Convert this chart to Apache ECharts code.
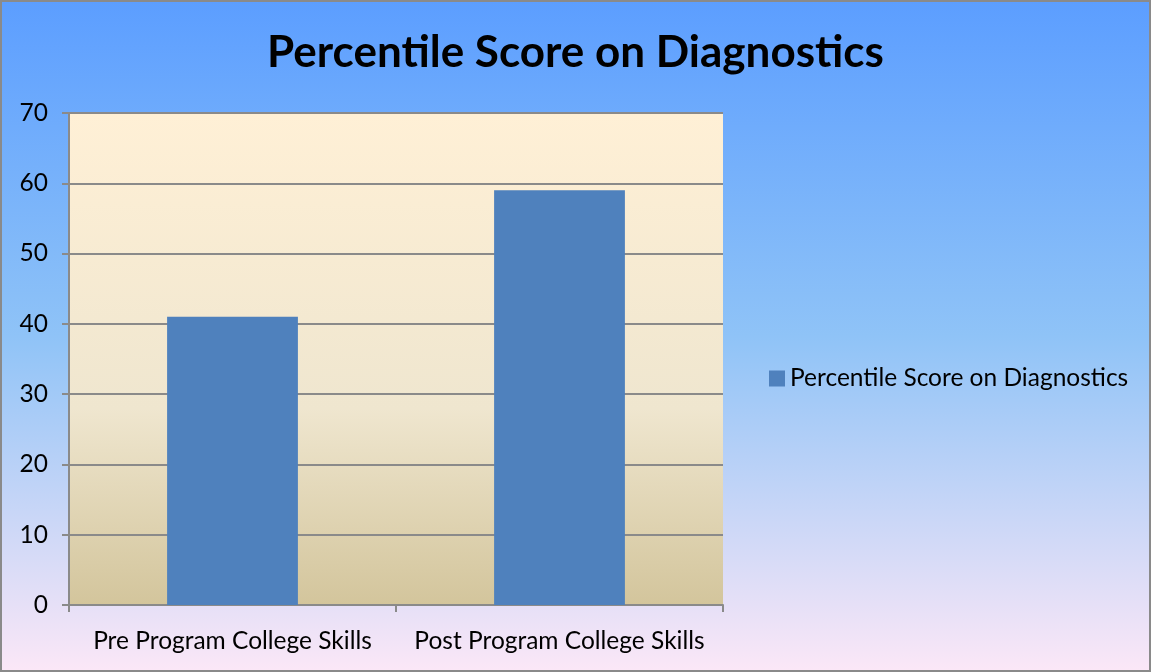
<!DOCTYPE html>
<html>
<head>
<meta charset="utf-8">
<script src="https://cdn.jsdelivr.net/npm/echarts@6/dist/echarts.min.js"></script>
<style>
  html, body { margin: 0; padding: 0; }
  #main { width: 1151px; height: 672px; box-sizing: border-box; border: 2px solid #8a8a8a; }
</style>
</head>
<body>
<div id="main"></div>
<script>
// chart data
const categories = ["Pre Program College Skills", "Post Program College Skills"];
const seriesName = "Percentile Score on Diagnostics";
const scores = [41, 59];

const chart = echarts.init(document.getElementById("main"));
const font = "Lato, 'Open Sans', sans-serif";

const option = {
  backgroundColor: new echarts.graphic.LinearGradient(0, 0, 0, 1, [
    { offset: 0, color: "#5c9eff" },
    { offset: 0.5, color: "#8fc3f7" },
    { offset: 1, color: "#fbe7f7" },
  ]),
  title: {
    text: seriesName,
    left: "center",
    top: 24,
    textStyle: { fontFamily: font, fontSize: 44, fontWeight: "bold", color: "#000" },
  },
  legend: {
    orient: "vertical",
    left: 762,
    top: 359,
    icon: "rect",
    itemWidth: 16,
    itemHeight: 16,
    itemGap: 5,
    textStyle: { fontFamily: font, fontSize: 24.5, color: "#000" },
    data: [seriesName],
  },
  grid: {
    left: 67,
    right: 426,
    top: 111,
    bottom: 65,
    show: true,
    borderWidth: 0,
    backgroundColor: new echarts.graphic.LinearGradient(0, 0, 0, 1, [
      { offset: 0, color: "#fff0d6" },
      { offset: 0.6, color: "#efe6cf" },
      { offset: 1, color: "#d3c59c" },
    ]),
  },
  xAxis: {
    type: "category",
    data: categories,
    axisLine: { lineStyle: { color: "#8a8a8a", width: 2 } },
    axisTick: { show: true, length: 7, alignWithLabel: false, lineStyle: { color: "#8a8a8a", width: 2 } },
    axisLabel: { interval: 0, fontFamily: font, fontSize: 24.5, color: "#000", margin: 24 },
  },
  yAxis: {
    type: "value",
    min: 0,
    max: 70,
    interval: 10,
    axisLine: { show: true, lineStyle: { color: "#8a8a8a", width: 2 } },
    axisTick: { show: true, length: 7, lineStyle: { color: "#8a8a8a", width: 2 } },
    axisLabel: { fontFamily: font, fontSize: 24.5, color: "#000", margin: 21 },
    splitLine: { lineStyle: { color: "#8a8a8a", width: 2 } },
  },
  series: [
    {
      name: seriesName,
      type: "bar",
      data: scores,
      barWidth: "40%",
      itemStyle: { color: "#4f81bd" },
    },
  ],
};

chart.setOption(option);
</script>
</body>
</html>
